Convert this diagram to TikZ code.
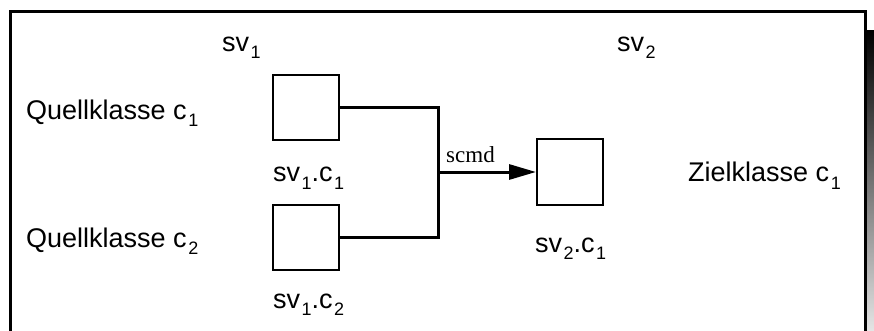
\documentclass[tikz,border=0pt]{standalone}
\usepackage{fontspec}
\setmainfont{Liberation Sans}
\newfontfamily\cmdfont{Liberation Serif}
\usetikzlibrary{positioning, arrows.meta}

% lowered index as in the drawing
\newcommand{\lowidx}[1]{\kern1.5pt\raisebox{-7pt}{\fontsize{18}{18}\selectfont #1}}

\begin{document}
\begin{tikzpicture}[
  x=1pt, y=-1pt,
  >={Triangle[length=27pt, width=15pt]},
  cls/.style={draw, line width=2pt, minimum width=66pt,
    minimum height=65pt, inner sep=0pt},
  conn/.style={line width=3pt},
  lbl/.style={font=\fontsize{27}{30}\selectfont, inner sep=0pt, anchor=base west},
  cmd/.style={font=\cmdfont\fontsize{23}{26}\selectfont, inner sep=0pt, anchor=base west},
]
\useasboundingbox (0,0) rectangle (874,331);
\clip (0,0) rectangle (874,331);

% === frame with shadow ===
\shade[top color=black, bottom color=gray!20] (867,31) rectangle (874,331);
\draw[line width=3pt] (10,345) -- (10,11.5) -- (865,11.5) -- (865,345);

% === views ===
\node[lbl] (sv1) at (222,52) {sv\lowidx{1}};
\node[lbl] (sv2) at (617,52) {sv\lowidx{2}};

% Source classes
\node[lbl] (q1) at (26,120) {Quellklasse c\lowidx{1}};
\node[lbl] (q2) at (26,247) {Quellklasse c\lowidx{2}};

% Target class
\node[lbl] (z1) at (688,182) {Zielklasse c\lowidx{1}};

% Class boxes
\node[cls] (b11) at (306,107.5) {};
\node[cls] (b12) at (306,237) {};
\node[cls] (b21) at (570,172) {};

\node[lbl] (l11) at (273,182) {sv\lowidx{1}.c\lowidx{1}};
\node[lbl] (l12) at (273,308) {sv\lowidx{1}.c\lowidx{2}};
\node[lbl] (l21) at (535,252) {sv\lowidx{2}.c\lowidx{1}};

% Connectors
\coordinate (join) at (438,172);
\draw[conn] (b11.east) -| (join);
\draw[conn] (b12.east) -| (join);
\draw[conn, ->] (join) -- (b21.west);
\node[cmd] (scmd) at (446,163) {scmd};

\end{tikzpicture}
\end{document}
